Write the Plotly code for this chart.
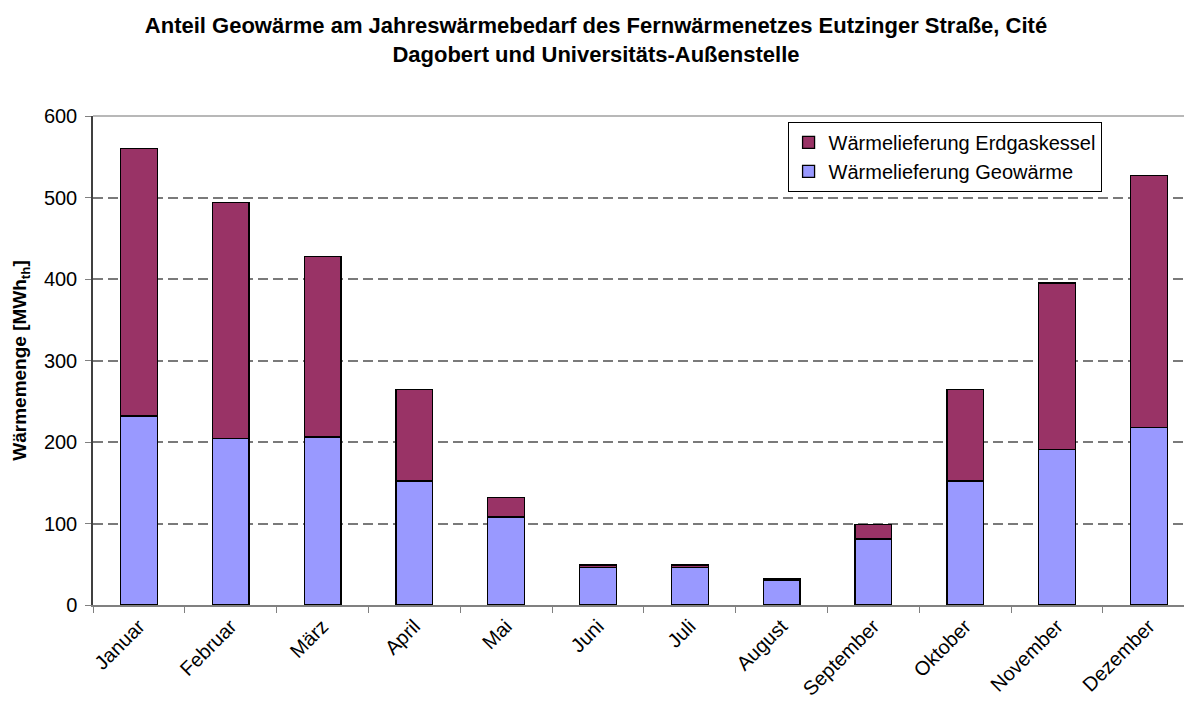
import plotly.graph_objects as go

months = ["Januar", "Februar", "März", "April", "Mai", "Juni", "Juli",
          "August", "September", "Oktober", "November", "Dezember"]
geowaerme = [232, 204, 206, 152, 108, 46, 46, 30, 81, 152, 191, 218]
erdgas = [328, 290, 222, 112, 24, 3, 3, 2, 18, 112, 204, 309]

name_geo = "Wärmelieferung Geowärme"
name_gas = "Wärmelieferung Erdgaskessel"
title_text = ("<b>Anteil Geowärme am Jahreswärmebedarf des Fernwärmenetzes Eutzinger Straße, Cité"
              "<br>Dagobert und Universitäts-Außenstelle</b>")
y_title = "<b>Wärmemenge [MWh<sub>th</sub>]</b>"
y_ticks = [0, 100, 200, 300, 400, 500, 600]

FONT = "Liberation Sans, Arial, sans-serif"

fig = go.Figure()
fig.add_trace(go.Bar(x=months, y=geowaerme, name=name_geo,
                     marker=dict(color="#9999FF", line=dict(color="#000000", width=1.3))))
fig.add_trace(go.Bar(x=months, y=erdgas, name=name_gas,
                     marker=dict(color="#993366", line=dict(color="#000000", width=1.3))))

fig.update_layout(
    width=1184, height=701,
    barmode="stack", bargap=0.6,
    paper_bgcolor="white", plot_bgcolor="white",
    font=dict(family=FONT, size=19, color="#000000"),
    margin=dict(l=85, r=0, t=108, b=104),
    title=dict(text=title_text, x=0.4966, xanchor="center", xref="container",
               y=0.964, yanchor="middle", yref="container",
               font=dict(family=FONT, size=22, color="#000000")),
    legend=dict(x=0.632, xanchor="left", y=0.988, yanchor="top", traceorder="reversed",
                bgcolor="white", bordercolor="#000000", borderwidth=1,
                font=dict(size=20), tracegroupgap=0, itemwidth=30),
    showlegend=True,
)
fig.update_xaxes(range=[-0.5, 11.47], tickangle=-45, tickson="boundaries",
                 ticks="outside", ticklen=6, tickcolor="#808080",
                 showline=True, linecolor="#808080", linewidth=1.5,
                 showgrid=False, tickfont=dict(size=20))
fig.update_yaxes(range=[0, 600], tickvals=y_ticks, ticks="outside", ticklen=6,
                 tickcolor="#808080", showline=True, linecolor="#404040", linewidth=1.5,
                 showgrid=True, gridcolor="#7a7a7a", griddash="10px,5px", gridwidth=1.5,
                 zeroline=False, tickfont=dict(size=20), ticklabelstandoff=4,
                 title=dict(text=y_title, font=dict(size=19), standoff=12))
fig.add_shape(type="line", xref="paper", yref="paper", x0=0, x1=1, y0=1, y1=1,
              line=dict(color="#a0a0a0", width=1.5))

fig.write_html("out.html")
